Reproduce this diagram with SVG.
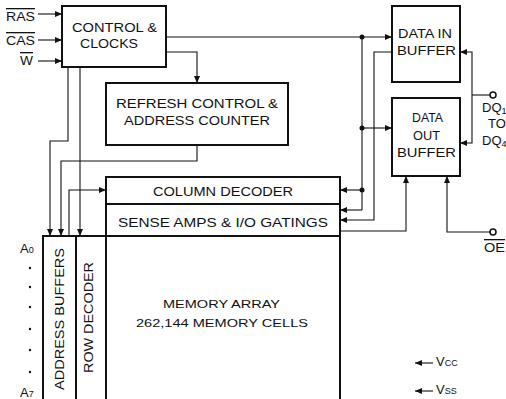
<svg xmlns="http://www.w3.org/2000/svg" width="506" height="399" viewBox="0 0 506 399">
<defs>
<style>
.box{fill:none;stroke:#111;stroke-width:2}
.ln{fill:none;stroke:#111;stroke-width:1.1}
.t{font-family:"Liberation Sans",Arial,sans-serif;font-size:13px;fill:#111}
.tm{font-family:"Liberation Sans",Arial,sans-serif;font-size:11.5px;fill:#111}
.ov{text-decoration:overline}
.dot{fill:#111}
</style>
<marker id="arr" viewBox="0 0 7 6" markerWidth="7" markerHeight="6" refX="7" refY="3" orient="auto" markerUnits="userSpaceOnUse">
<path d="M0,0 L7,3 L0,6 z" fill="#111"/>
</marker>
</defs>
<rect width="506" height="399" fill="#fff"/>

<g id="control-clocks">
<rect class="box" x="62" y="6" width="104" height="61"/>
<text class="t" x="72" y="32" textLength="85" lengthAdjust="spacingAndGlyphs">CONTROL &amp;</text>
<text class="t" x="80" y="48" textLength="58" lengthAdjust="spacingAndGlyphs">CLOCKS</text>
</g>

<g id="refresh-control">
<rect class="box" x="106" y="83" width="182" height="62"/>
<text class="t" x="116" y="108" textLength="162" lengthAdjust="spacingAndGlyphs">REFRESH CONTROL &amp;</text>
<text class="t" x="124" y="125" textLength="146" lengthAdjust="spacingAndGlyphs">ADDRESS COUNTER</text>
</g>

<g id="data-in-buffer">
<rect class="box" x="392" y="6" width="68" height="76"/>
<text class="t" x="398" y="38" textLength="54" lengthAdjust="spacingAndGlyphs">DATA IN</text>
<text class="t" x="397" y="55" textLength="59" lengthAdjust="spacingAndGlyphs">BUFFER</text>
</g>

<g id="data-out-buffer">
<rect class="box" x="392" y="98" width="68" height="78"/>
<text class="t" x="412" y="122" textLength="31" lengthAdjust="spacingAndGlyphs">DATA</text>
<text class="t" x="413" y="140" textLength="27" lengthAdjust="spacingAndGlyphs">OUT</text>
<text class="t" x="397" y="157" textLength="59" lengthAdjust="spacingAndGlyphs">BUFFER</text>
</g>

<g id="column-decoder">
<rect class="box" x="106" y="177" width="234" height="27"/>
<text class="t" x="153" y="196" textLength="140" lengthAdjust="spacingAndGlyphs">COLUMN DECODER</text>
</g>

<g id="sense-amps">
<rect class="box" x="106" y="204" width="234" height="32"/>
<text class="t" x="118" y="227" textLength="210" lengthAdjust="spacingAndGlyphs">SENSE AMPS &amp; I/O GATINGS</text>
</g>

<g id="address-buffers">
<path class="box" d="M43,400 V236 H76 V400"/>
<text class="t" transform="translate(64,390) rotate(-90)" textLength="142" lengthAdjust="spacingAndGlyphs">ADDRESS BUFFERS</text>
</g>

<g id="row-decoder">
<path class="box" d="M76,236 H106 V400"/>
<text class="t" transform="translate(93,373) rotate(-90)" textLength="111" lengthAdjust="spacingAndGlyphs">ROW DECODER</text>
</g>

<g id="memory-array">
<path class="box" d="M106,236 H340 V400"/>
<text class="tm" x="163" y="308" textLength="117" lengthAdjust="spacingAndGlyphs">MEMORY ARRAY</text>
<text class="tm" x="136" y="327" textLength="172" lengthAdjust="spacingAndGlyphs">262,144 MEMORY CELLS</text>
</g>

<g id="inputs">
<text class="t ov" x="6" y="21" textLength="29" lengthAdjust="spacingAndGlyphs">RAS</text>
<text class="t ov" x="6" y="45" textLength="29" lengthAdjust="spacingAndGlyphs">CAS</text>
<text class="t ov" x="20" y="65" textLength="13" lengthAdjust="spacingAndGlyphs">W</text>
<text class="t" x="20" y="253">A<tspan font-size="9">0</tspan></text>
<circle class="dot" cx="30" cy="268" r="1.2"/>
<circle class="dot" cx="30" cy="287" r="1.2"/>
<circle class="dot" cx="30" cy="307" r="1.2"/>
<circle class="dot" cx="30" cy="329" r="1.2"/>
<circle class="dot" cx="30" cy="350" r="1.2"/>
<circle class="dot" cx="30" cy="372" r="1.2"/>
<text class="t" x="20" y="397">A<tspan font-size="9">7</tspan></text>
</g>

<g id="dq-pins">
<circle cx="493" cy="95" r="3" fill="#fff" stroke="#111" stroke-width="1.5"/>
<text class="t" x="482" y="112">DQ<tspan font-size="9" dy="2">1</tspan></text>
<text class="t" x="488" y="128">TO</text>
<text class="t" x="482" y="145">DQ<tspan font-size="9" dy="2">4</tspan></text>
</g>

<g id="oe-pin">
<circle cx="493" cy="232" r="3" fill="#fff" stroke="#111" stroke-width="1.5"/>
<text class="t ov" x="484" y="252" textLength="21" lengthAdjust="spacingAndGlyphs">OE</text>
</g>

<g id="power">
<text class="t" x="436" y="366">V<tspan font-size="9">CC</tspan></text>
<text class="t" x="436" y="394">V<tspan font-size="9">SS</tspan></text>
</g>

<g id="connectors">
<line class="ln" x1="38" y1="14" x2="62" y2="14" marker-end="url(#arr)"/>
<line class="ln" x1="38" y1="40" x2="62" y2="40" marker-end="url(#arr)"/>
<line class="ln" x1="38" y1="61" x2="62" y2="61" marker-end="url(#arr)"/>
<line class="ln" x1="166" y1="37" x2="392" y2="37" marker-end="url(#arr)"/>
<polyline class="ln" points="166,52 197,52 197,83" marker-end="url(#arr)"/>
<line class="ln" x1="362" y1="37" x2="362" y2="210"/>
<circle class="dot" cx="362" cy="37" r="2.5"/>
<circle class="dot" cx="362" cy="128" r="2.5"/>
<circle class="dot" cx="362" cy="190" r="2.5"/>
<line class="ln" x1="362" y1="128" x2="392" y2="128" marker-end="url(#arr)"/>
<line class="ln" x1="362" y1="190" x2="340" y2="190" marker-end="url(#arr)"/>
<line class="ln" x1="362" y1="210" x2="340" y2="210" marker-end="url(#arr)"/>
<polyline class="ln" points="392,52 374,52 374,220 340,220" marker-end="url(#arr)"/>
<polyline class="ln" points="340,231 406,231 406,176" marker-end="url(#arr)"/>
<polyline class="ln" points="490,232 447,232 447,176" marker-end="url(#arr)"/>
<polyline class="ln" points="472,95 472,52 460,52" marker-end="url(#arr)"/>
<polyline class="ln" points="472,95 472,143 460,143" marker-end="url(#arr)"/>
<line class="ln" x1="472" y1="95" x2="490" y2="95"/>
<polyline class="ln" points="68,67 68,141 50,141 50,236" marker-end="url(#arr)"/>
<line class="ln" x1="80" y1="67" x2="80" y2="236" marker-end="url(#arr)"/>
<polyline class="ln" points="197,145 197,161 61,161 61,236" marker-end="url(#arr)"/>
<polyline class="ln" points="69,236 69,190 106,190" marker-end="url(#arr)"/>
<line class="ln" x1="433" y1="363" x2="415" y2="363" marker-end="url(#arr)"/>
<line class="ln" x1="433" y1="391" x2="415" y2="391" marker-end="url(#arr)"/>
</g>
</svg>
